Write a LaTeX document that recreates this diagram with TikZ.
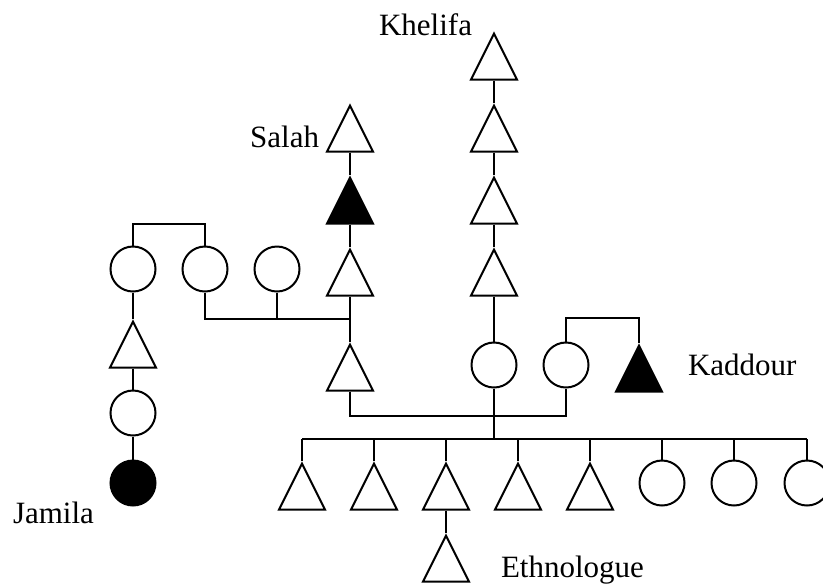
\documentclass[tikz,border=0pt]{standalone}
\usepackage{fontspec}
\setmainfont{Liberation Serif}
\usetikzlibrary{calc,positioning,shapes.geometric}
\tikzset{male/.style={draw, isosceles triangle, shape border rotate=90, isosceles triangle stretches, minimum width=23pt, minimum height=23pt, inner sep=0pt}}
\tikzset{female/.style={draw, circle, minimum size=22.5pt, inner sep=0pt}}
\tikzset{ego/.style={fill=black}}
\tikzset{who/.style={inner sep=0pt, font=\fontsize{15.5}{18}\selectfont}}

\begin{document}
\begin{tikzpicture}[x=0.5pt,y=-0.5pt,line width=1pt]
      \clip (0,0) rectangle (823,585);
      % Khelifa's line
      \node[male,anchor=apex] (k1) at (494,31) {};
      \node[male,anchor=apex] (k2) at (494,103) {};
      \node[male,anchor=apex] (k3) at (494,175) {};
      \node[male,anchor=apex] (k4) at (494,247) {};
      \node[female] (kc) at (494,365) {};
      % Salah's line
      \node[male,anchor=apex] (s1) at (350,103) {};
      \node[male,ego,anchor=apex] (s2) at (350,175) {};
      \node[male,anchor=apex] (s3) at (350,247) {};
      \node[male,anchor=apex] (s4) at (350,342) {};
      % wives and Jamila's line
      \node[female] (c1) at (133,269) {};
      \node[female] (c2) at (205,269) {};
      \node[female] (c3) at (277,269) {};
      \node[male,anchor=apex] (l1) at (133,319) {};
      \node[female] (l2) at (133,413) {};
      \node[female,ego] (jam) at (133,483) {};
      % Kaddour
      \node[female] (w2) at (566,365) {};
      \node[male,ego,anchor=apex] (kad) at (639,343) {};
      % children
      \foreach \x [count=\i] in {302,374,446,518,590}
        \node[male,anchor=apex] (ch\i) at (\x,461) {};
      \foreach \x [count=\i from 6] in {662,734,807}
        \node[female] (ch\i) at (\x,483) {};
      \node[male,anchor=apex] (eth) at (446,533) {};

      \node[who,anchor=base east] (lk) at (473,35) {Khelifa};
      \node[who,anchor=base east] (ls) at (320,147) {Salah};
      \node[who,anchor=base west] (lkad) at (687,375) {Kaddour};
      \node[who,anchor=base west] (lj) at (12,523) {Jamila};
      \node[who,anchor=base west] (le) at (500,577) {Ethnologue};

      \coordinate (m1) at ($(s3.lower side)!.5!(s4.apex)$);
      \coordinate (sib) at ($(kc.south)+(0,50)$);
      \draw (k1.lower side) -- (k2.apex);
      \draw (k2.lower side) -- (k3.apex);
      \draw (k3.lower side) -- (k4.apex);
      \draw (k4.lower side) -- (kc.north);
      \draw (s1.lower side) -- (s2.apex);
      \draw (s2.lower side) -- (s3.apex);
      \draw (s3.lower side) -- (s4.apex);
      \draw (c1.north) -- ++(0,-22) -| (c2.north);
      \draw (c2.south) |- (m1);
      \draw (c3.south) -- (c3.south |- m1);
      \draw (c1.south) -- (l1.apex);
      \draw (l1.lower side) -- (l2.north);
      \draw (l2.south) -- (jam.north);
      \draw (w2.north) -- ++(0,-24) -| (kad.apex);
      \draw (s4.lower side) -- ++(0,24) -| (w2.south);
      \draw (kc.south) -- (sib);
      \draw (ch1.apex |- sib) -- (ch8.north |- sib);
      \foreach \c in {ch1,ch2,ch3,ch4,ch5}
        \draw (\c.apex) -- (\c.apex |- sib);
      \foreach \c in {ch6,ch7,ch8}
        \draw (\c.north) -- (\c.north |- sib);
      \draw (ch3.lower side) -- (eth.apex);
    \end{tikzpicture}
\end{document}
